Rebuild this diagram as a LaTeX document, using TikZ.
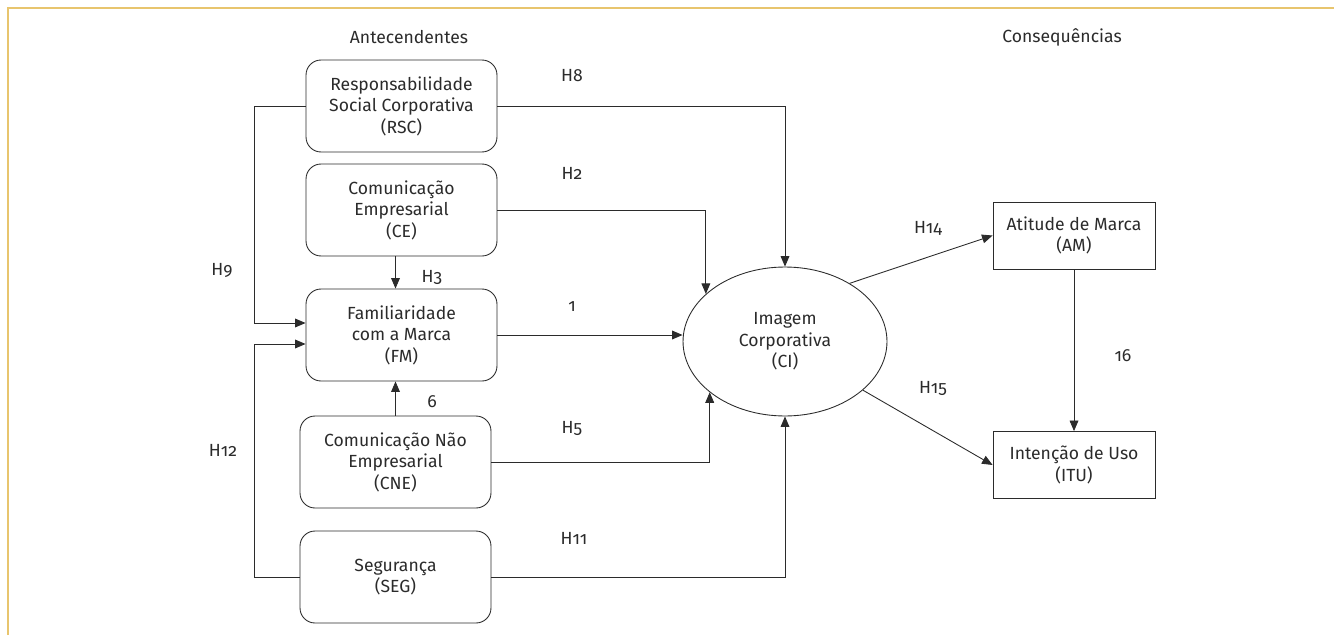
\documentclass[tikz,border=0pt]{standalone}
\usepackage{fontspec}
\setmainfont[Numbers=OldStyle]{Fira Sans}
\usetikzlibrary{arrows.meta,shapes.geometric}
\definecolor{frame}{HTML}{E8C56E}
\definecolor{ink}{HTML}{2B2B2B}

\begin{document}
\begin{tikzpicture}[x=0.02cm, y=-0.02cm, font=\fontsize{10}{12.2}\selectfont, text=ink, line width=0.5pt,
	box/.style = {draw=ink, rounded corners=0.3cm, align=center, minimum width=3.82cm, minimum height=1.84cm, inner sep=0pt},
	rbox/.style = {draw=ink, align=center, minimum width=3.24cm, minimum height=1.34cm, inner sep=0pt},
	lbl/.style = {inner sep=0pt},
	arr/.style = {draw=ink, -{Triangle[length=6pt,width=5pt]}}]
	\useasboundingbox (0,0) rectangle (1334,635);
	\draw[frame, line width=1.3pt] (8,635) -- (8,8) -- (1334,8);
	% colunas
	\node[lbl] (ant) at (409,37) {Antecendentes};
	\node[lbl] (cons) at (1062,37) {Consequências};
	% construtos
	\node[box] (rsc) at (401.5,106) {Responsabilidade\\Social Corporativa\\(RSC)};
	\node[box] (ce) at (401.5,210) {Comunicação\\Empresarial\\(CE)};
	\node[box] (fm) at (401.5,335) {Familiaridade\\com a Marca\\(FM)};
	\node[box] (cne) at (395.5,462) {Comunicação Não\\Empresarial\\(CNE)};
	\node[box] (seg) at (395.5,577) {Segurança\\(SEG)};
	\node[draw=ink, ellipse, align=center, minimum width=4.08cm, minimum height=2.98cm, inner sep=0pt] (ci) at (785,341.5) {Imagem\\Corporativa\\(CI)};
	\node[rbox] (am) at (1074,235.5) {Atitude de Marca\\(AM)};
	\node[rbox] (itu) at (1074,465) {Intenção de Uso\\(ITU)};
	% ligacoes
	\draw[arr] (rsc.east) -| (ci.north);
	\draw[arr] (ce.east) -| (ci.149);
	\draw[arr] (fm.east) -- (ci.west |- fm.east);
	\draw[arr] (cne.east) -| (ci.214);
	\draw[arr] (seg.east) -| (ci.south);
	\draw[arr] (rsc.west) -- ++(-51,0) |- ([yshift=0.24cm]fm.west);
	\draw[arr] (seg.west) -- ++(-45,0) |- ([yshift=-0.18cm]fm.west);
	\draw[arr] (ce.south -| cne.north) -- (fm.north -| cne.north);
	\draw[arr] (cne.north) -- (fm.south -| cne.north);
	\draw[arr] (ci.42) -- (am.west);
	\draw[arr] (ci.-32) -- (itu.west);
	\draw[arr] (am) -- (itu);
	% hipoteses
	\node[lbl] (h8) at (572,76) {H8};
	\node[lbl] (h2) at (572,173) {H2};
	\node[lbl] (h1) at (572,307) {1};
	\node[lbl] (h5) at (572,428) {H5};
	\node[lbl] (h11) at (574,538) {H11};
	\node[lbl] (h9) at (222,270) {H9};
	\node[lbl] (h12) at (223,450) {H12};
	\node[lbl] (h3) at (432,277) {H3};
	\node[lbl] (h6) at (432,402) {6};
	\node[lbl] (h14) at (928,228) {H14};
	\node[lbl] (h15) at (933,388) {H15};
	\node[lbl] (h16) at (1123,356) {16};
\end{tikzpicture}
\end{document}
